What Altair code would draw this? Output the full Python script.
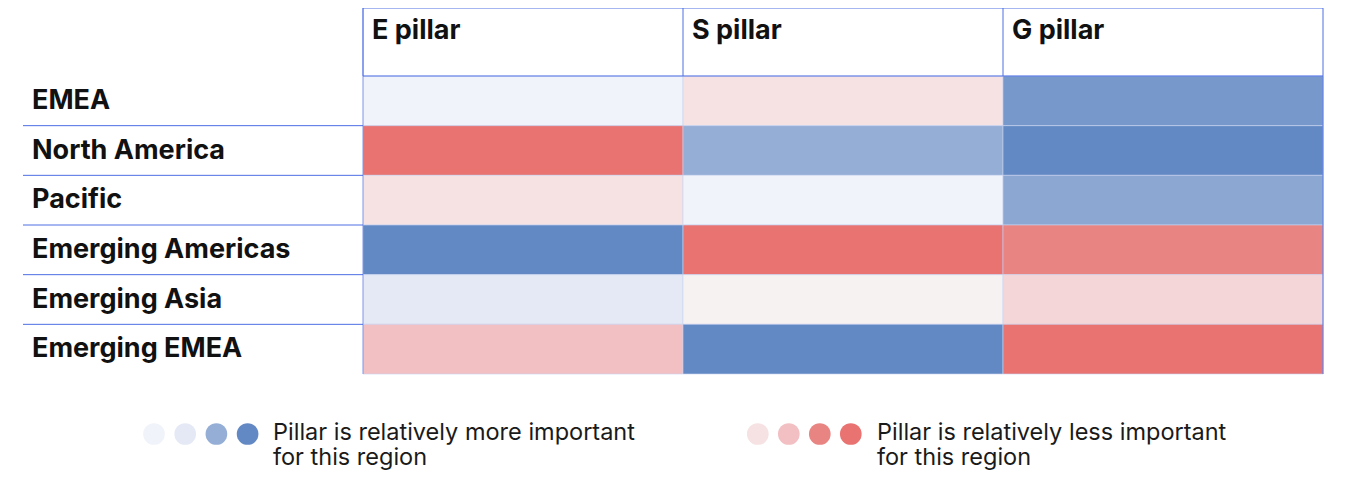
import altair as alt
import pandas as pd

# ---- data -------------------------------------------------------------
pillars = ["E pillar", "S pillar", "G pillar"]
regions = ["EMEA", "North America", "Pacific", "Emerging Americas",
           "Emerging Asia", "Emerging EMEA"]
# relative importance score: negative = relatively more important (blue),
# positive = relatively less important (red)
e_scores = [-0.1, 1.0, 0.1, -1.0, -0.4, 0.4]
s_scores = [0.1, -0.7, -0.1, 1.0, 0.0, -1.0]
g_scores = [-0.88, -1.0, -0.75, 0.7, 0.2, 1.0]

legend_more_levels = [-0.1, -0.4, -0.7, -1.0]
legend_less_levels = [0.1, 0.4, 0.7, 1.0]
legend_more_text = ["Pillar is relatively more important", "for this region"]
legend_less_text = ["Pillar is relatively less important", "for this region"]

color_domain = [-1, -0.7, -0.4, -0.1, 0, 0.1, 0.4, 0.7, 1]
color_range = ["#6389c4", "#94aed5", "#e4e9f5", "#f0f3f9", "#f7f2f2",
               "#f6e1e3", "#f2bfc3", "#e88481", "#e87371"]

# ---- tables -----------------------------------------------------------
rows = []
for p, scores in zip(pillars, [e_scores, s_scores, g_scores]):
    for r, s in zip(regions, scores):
        rows.append({"pillar": p, "region": r, "score": s})
heat_df = pd.DataFrame(rows)
col_df = pd.DataFrame({"pillar": pillars})
reg_df = pd.DataFrame({"region": regions})
sep_df = pd.DataFrame({"region": regions[1:]})
more_df = pd.DataFrame({"score": legend_more_levels, "idx": range(len(legend_more_levels))})
less_df = pd.DataFrame({"score": legend_less_levels, "idx": range(len(legend_less_levels))})
more_txt_df = pd.DataFrame({"line": legend_more_text, "i": range(len(legend_more_text))})
less_txt_df = pd.DataFrame({"line": legend_less_text, "i": range(len(legend_less_text))})
one = pd.DataFrame({"k": [0]})

# ---- styling ----------------------------------------------------------
W, H = 960, 298
HEADER = 68
FONT = "Inter"
LINE = "#4c6ee4"
TXT = "#111111"
LABEL_SIZE = 27
LEGEND_SIZE = 23.5

xscale = alt.Scale(domain=pillars, paddingInner=0, paddingOuter=0)
yscale = alt.Scale(domain=regions, paddingInner=0, paddingOuter=0)
cscale = alt.Scale(domain=color_domain, range=color_range)

heat = alt.Chart(heat_df).mark_rect(stroke="#c9d3f2", strokeWidth=0.6).encode(
    x=alt.X("pillar:N", scale=xscale, axis=None),
    y=alt.Y("region:N", scale=yscale, axis=None),
    color=alt.Color("score:Q", scale=cscale, legend=None),
)

header_text = alt.Chart(col_df).mark_text(
    align="left", baseline="middle", dx=9, fontSize=LABEL_SIZE, fontWeight="bold",
    font=FONT, color=TXT,
).encode(
    x=alt.X("pillar:N", scale=xscale, bandPosition=0, axis=None),
    y=alt.value(-HEADER + 23),
    text="pillar:N",
)

header_vlines = alt.Chart(col_df).mark_rule(color=LINE, strokeWidth=1).encode(
    x=alt.X("pillar:N", scale=xscale, bandPosition=0, axis=None),
    y=alt.value(-HEADER), y2=alt.value(0),
)

left_edge = alt.Chart(one).mark_rule(color=LINE, strokeWidth=1, opacity=0.6).encode(
    x=alt.value(0), y=alt.value(-HEADER), y2=alt.value(H))
right_edge = alt.Chart(one).mark_rule(color=LINE, strokeWidth=1).encode(
    x=alt.value(W), y=alt.value(-HEADER), y2=alt.value(H))
top_edge = alt.Chart(one).mark_rule(color=LINE, strokeWidth=1).encode(
    x=alt.value(0), x2=alt.value(W), y=alt.value(-HEADER))
header_bottom = alt.Chart(one).mark_rule(color=LINE, strokeWidth=1).encode(
    x=alt.value(0), x2=alt.value(W), y=alt.value(0))

row_seps = alt.Chart(sep_df).mark_rule(color=LINE, strokeWidth=1).encode(
    y=alt.Y("region:N", scale=yscale, bandPosition=0, axis=None),
    x=alt.value(-340), x2=alt.value(0),
)

row_labels = alt.Chart(reg_df).mark_text(
    align="left", baseline="middle", fontSize=LABEL_SIZE, fontWeight="bold",
    font=FONT, color=TXT,
).encode(
    y=alt.Y("region:N", scale=yscale, axis=None),
    x=alt.value(-331),
    text="region:N",
)

LEG_Y = 358
more_dots = alt.Chart(more_df).transform_calculate(
    px="-209 + 31.2 * datum.idx"
).mark_circle(opacity=1, size=470).encode(
    x=alt.X("px:Q", scale=None, axis=None),
    y=alt.value(LEG_Y),
    color=alt.Color("score:Q", scale=cscale, legend=None),
)
less_dots = alt.Chart(less_df).transform_calculate(
    px="394.8 + 31 * datum.idx"
).mark_circle(opacity=1, size=470).encode(
    x=alt.X("px:Q", scale=None, axis=None),
    y=alt.value(LEG_Y),
    color=alt.Color("score:Q", scale=cscale, legend=None),
)


def legend_text(df, x0):
    return alt.Chart(df).transform_calculate(
        py=f"{LEG_Y + 6} + 25 * datum.i"
    ).mark_text(
        align="left", baseline="alphabetic", fontSize=LEGEND_SIZE, font=FONT,
        color="#1a1a1a",
    ).encode(
        x=alt.value(x0),
        y=alt.Y("py:Q", scale=None, axis=None),
        text="line:N",
    )


more_text = legend_text(more_txt_df, -90)
less_text = legend_text(less_txt_df, 514)

chart = alt.layer(
    heat, header_vlines, left_edge, right_edge, top_edge, header_bottom,
    header_text, row_seps, row_labels,
    more_dots, less_dots, more_text, less_text,
).properties(
    width=W, height=H,
    padding={"left": 355, "top": HEADER, "right": 5, "bottom": 96},
    autosize=alt.AutoSizeParams(type="none"),
    background="white",
).configure_view(stroke=None)

chart.save("out.html", embed_options={"renderer": "svg", "actions": False})
